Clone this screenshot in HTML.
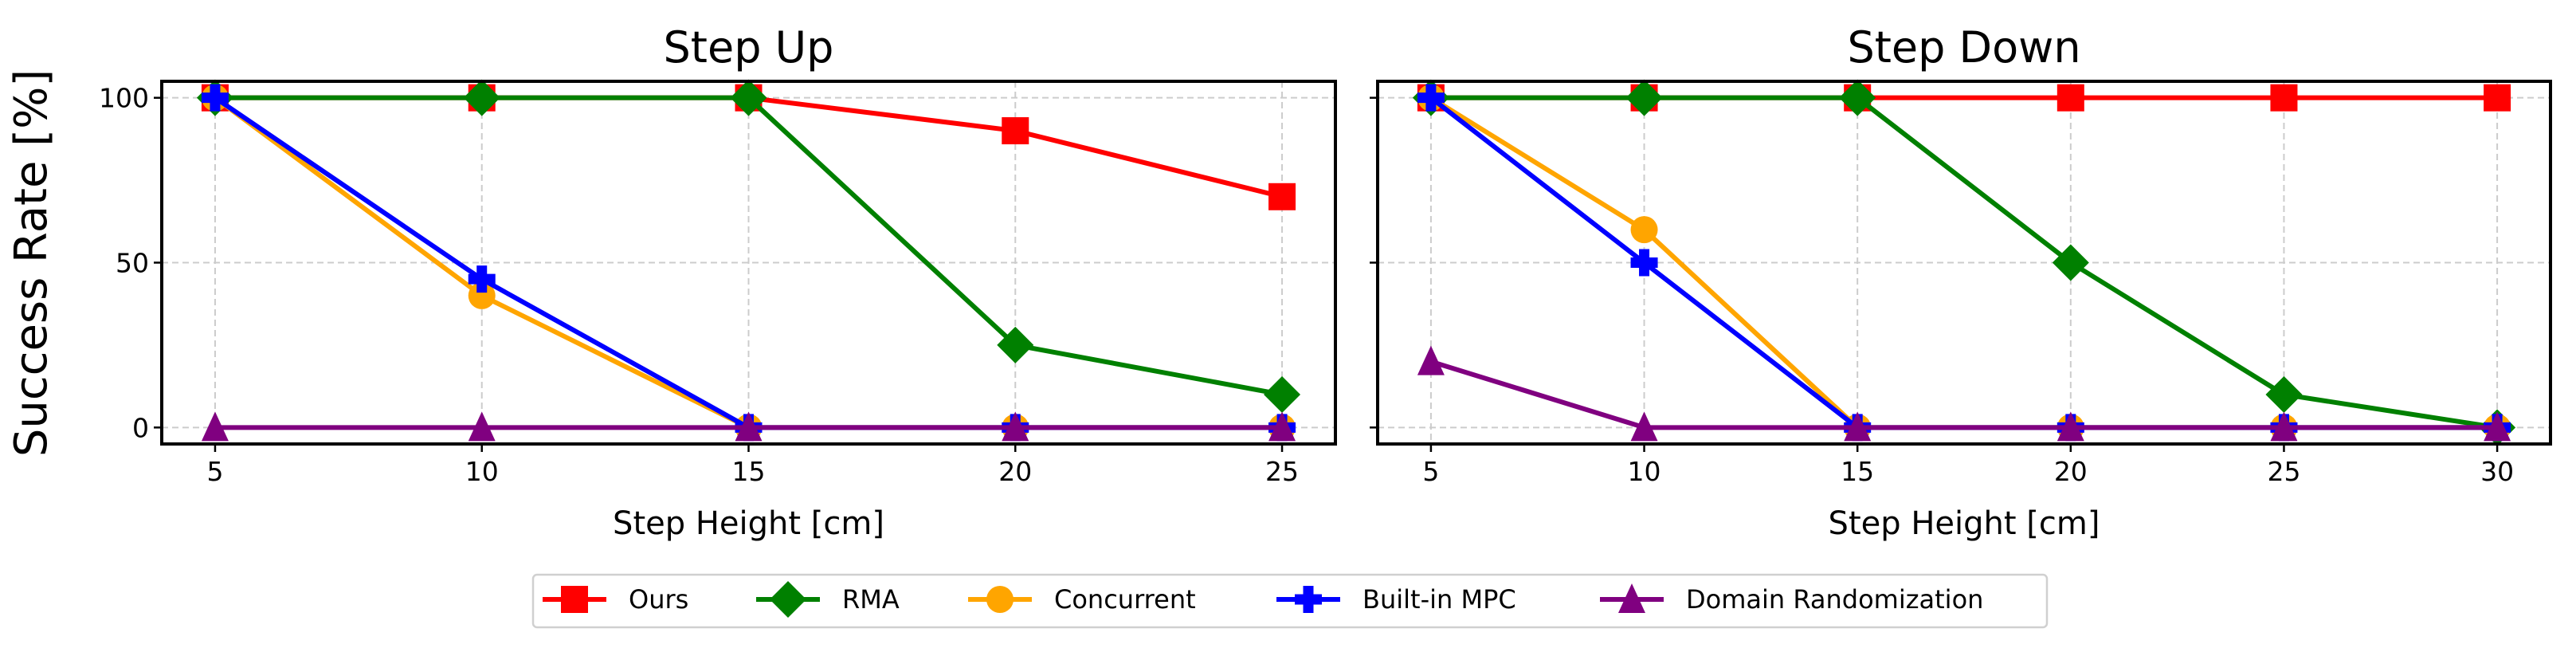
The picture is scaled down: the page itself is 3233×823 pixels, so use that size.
<!DOCTYPE html>
<html><head><meta charset="utf-8"><style>
html,body{margin:0;padding:0;background:#fff;}
svg{display:block;font-family:"DejaVu Sans","Liberation Sans",sans-serif;}
</style></head><body>
<svg id="chart" width="3233" height="823" viewBox="0 0 3233 823" xmlns="http://www.w3.org/2000/svg"></svg>
<script>
const upHeights = [5, 10, 15, 20, 25];
const downHeights = [5, 10, 15, 20, 25, 30];
const upOurs = [100, 100, 100, 90, 70];
const upRMA = [100, 100, 100, 25, 10];
const upConcurrent = [100, 40, 0, 0, 0];
const upMPC = [100, 45, 0, 0, 0];
const upDR = [0, 0, 0, 0, 0];
const downOurs = [100, 100, 100, 100, 100, 100];
const downRMA = [100, 100, 100, 50, 10, 0];
const downConcurrent = [100, 60, 0, 0, 0, 0];
const downMPC = [100, 50, 0, 0, 0, 0];
const downDR = [20, 0, 0, 0, 0, 0];
const yTicks = [0, 50, 100];
const seriesNames = ["Ours", "RMA", "Concurrent", "Built-in MPC", "Domain Randomization"];

const NS = "http://www.w3.org/2000/svg";
const svg = document.getElementById('chart');
function mk(tag, attrs, parent) {
  const e = document.createElementNS(NS, tag);
  for (const k in attrs) e.setAttribute(k, attrs[k]);
  (parent || svg).appendChild(e);
  return e;
}
const colors = ["#ff0000", "#008000", "#ffa500", "#0000ff", "#800080"];
const markers = ["square", "diamond", "circle", "plus", "triangle"];

function marker(g, type, cx, cy, color) {
  let m;
  if (type === "square") m = mk('rect', {x: cx-17, y: cy-17, width: 34, height: 34, fill: color}, g);
  else if (type === "diamond") m = mk('polygon', {points: `${cx},${cy-23} ${cx+23},${cy} ${cx},${cy+23} ${cx-23},${cy}`, fill: color}, g);
  else if (type === "circle") m = mk('circle', {cx: cx, cy: cy, r: 17, fill: color}, g);
  else if (type === "plus") m = mk('path', {d: `M${cx-17},${cy-6.5}h10.5v-10.5h13v10.5h10.5v13h-10.5v10.5h-13v-10.5h-10.5z`, fill: color}, g);
  else m = mk('polygon', {points: `${cx},${cy-20} ${cx+17},${cy+17} ${cx-17},${cy+17}`, fill: color}, g);
  return m;
}

function panel(name, left, right, xmin, xmax, heights, series, title, showYLabels) {
  const top = 102, bottom = 557;
  const ymin = -5, ymax = 105;
  const X = v => left + (v - xmin) / (xmax - xmin) * (right - left);
  const Y = v => bottom - (v - ymin) / (ymax - ymin) * (bottom - top);
  const g = mk('g', {});
  
  
  heights.forEach(h => {
    const l = mk('line', {x1: X(h), x2: X(h), y1: top, y2: bottom, stroke: '#cccccc', 'stroke-width': 2, 'stroke-dasharray': '8,5'}, g);
    
    
  });
  yTicks.forEach(t => {
    const l = mk('line', {x1: left, x2: right, y1: Y(t), y2: Y(t), stroke: '#cccccc', 'stroke-width': 2, 'stroke-dasharray': '8,5'}, g);
    
    
  });
  series.forEach((vals, i) => {
    const sg = mk('g', {}, g);
    
    
    const pts = vals.map((v, j) => X(heights[j]) + ',' + Y(v)).join(' ');
    const pl = mk('polyline', {points: pts, fill: 'none', stroke: colors[i], 'stroke-width': 6, 'stroke-linejoin': 'round'}, sg);
    
    
    vals.forEach((v, j) => {
      const m = marker(sg, markers[i], X(heights[j]), Y(v), colors[i]);
      
      
    });
  });
  const fr = mk('rect', {x: left, y: top, width: right - left, height: bottom - top, fill: 'none', stroke: '#000', 'stroke-width': 4}, g);
  
  
  heights.forEach(h => {
    mk('line', {x1: X(h), x2: X(h), y1: bottom, y2: bottom + 10, stroke: '#000', 'stroke-width': 2.5}, g);
    const t = mk('text', {x: X(h), y: bottom + 46, 'font-size': 33, 'text-anchor': 'middle', fill: '#000'}, g);
    t.textContent = h;
    
    
  });
  yTicks.forEach(v => {
    mk('line', {x1: left - 10, x2: left, y1: Y(v), y2: Y(v), stroke: '#000', 'stroke-width': 2.5}, g);
    if (showYLabels) {
      const t = mk('text', {x: left - 16, y: Y(v) + 12, 'font-size': 33, 'text-anchor': 'end', fill: '#000'}, g);
      t.textContent = v;
      
      
    }
  });
  const xl = mk('text', {x: (left + right) / 2, y: 670, 'font-size': 40, 'text-anchor': 'middle', fill: '#000'}, g);
  xl.textContent = 'Step Height [cm]';
  
  
  const tt = mk('text', {x: (left + right) / 2, y: 78, 'font-size': 54, 'text-anchor': 'middle', fill: '#000'}, g);
  tt.textContent = title;
  
  
}

panel('step-up', 203, 1676, 4, 26, upHeights, [upOurs, upRMA, upConcurrent, upMPC, upDR], 'Step Up', true);
panel('step-down', 1729, 3201, 3.75, 31.25, downHeights, [downOurs, downRMA, downConcurrent, downMPC, downDR], 'Step Down', false);

const yl = mk('text', {x: 0, y: 0, 'font-size': 56, 'text-anchor': 'middle', fill: '#000', transform: 'translate(58,330) rotate(-90)'});
yl.textContent = 'Success Rate [%]';



const lg = mk('g', {});


mk('rect', {x: 669, y: 721, width: 1900, height: 66, rx: 5, fill: '#fff', stroke: '#d0d0d0', 'stroke-width': 2.5}, lg);
const legMarkX = [721, 989, 1255, 1642, 2048];
seriesNames.forEach((n, i) => {
  const eg = mk('g', {}, lg);
  
  
  const cx = legMarkX[i], cy = 752;
  mk('line', {x1: cx - 40, x2: cx + 40, y1: cy, y2: cy, stroke: colors[i], 'stroke-width': 6}, eg);
  marker(eg, markers[i], cx, cy, colors[i]);
  const t = mk('text', {x: cx + 68, y: cy + 11, 'font-size': 32, fill: '#000'}, eg);
  t.textContent = n;
});
</script>
</body></html>
